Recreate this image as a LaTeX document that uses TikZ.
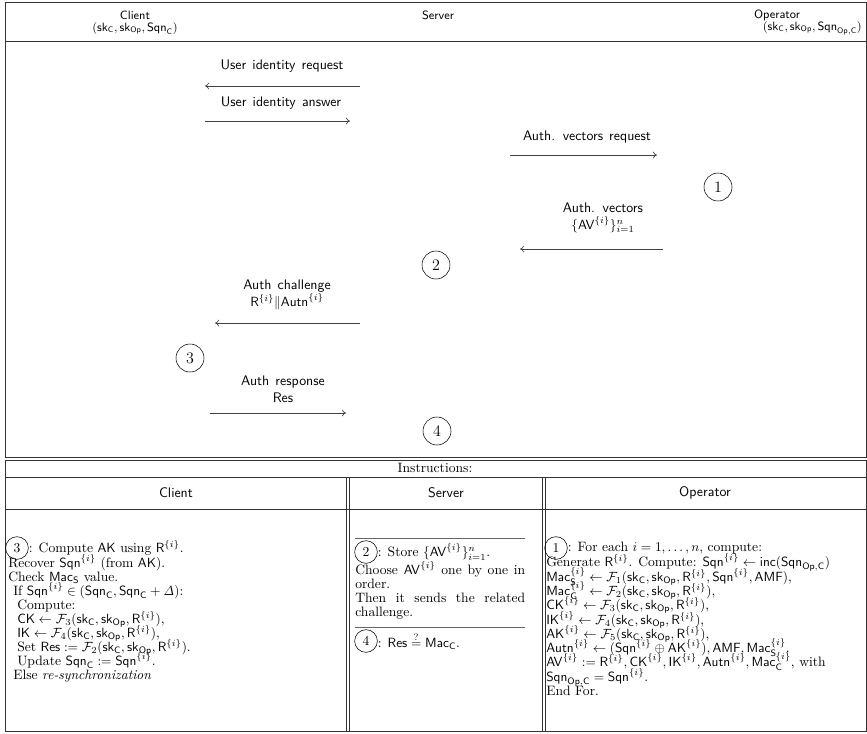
\documentclass[tikz,border=0pt]{standalone}
\usepackage{amsmath,amssymb}
\usetikzlibrary{arrows.meta}
\newcommand{\skx}[1]{\mathsf{sk}_{\mathsf{#1}}}
\newcommand{\Sqnx}{\mathsf{Sqn}}
\newcommand{\ix}{^{\{i\}}}
\newcommand{\Fx}[1]{\mathcal{F}_{#1}}
\newcommand{\Rx}{\mathsf{R}}
\newcommand{\args}{(\skx{C},\skx{Op},\Rx\ix)}
\newcommand{\bodyfont}{\fontsize{10.2}{12}\selectfont}
\tikzset{
  frame/.style={draw=black!80,line width=0.6pt},
  lbl/.style={font=\fontsize{10.4}{12.4}\selectfont\sffamily,align=center,inner sep=0pt,
    execute at begin node={\spaceskip=4.6pt plus 1pt}},
  hdr/.style={font=\sffamily\small,inner sep=0pt},
  msg/.style={draw=black!75,line width=0.5pt,-{To[length=3pt,width=5pt]}},
  cn/.style={draw,circle,minimum size=21,inner sep=0pt,font=\large},
  tcn/.style={draw,circle,minimum size=17,inner sep=0pt,font=\bodyfont},
  ln/.style={anchor=base west,inner sep=0pt,font=\bodyfont},
  rule/.style={draw=black!60,line width=0.4pt}
}
\begin{document}
\begin{tikzpicture}[x=0.75pt,y=-0.75pt]
\useasboundingbox (0,0) rectangle (867,733);
% top box
\draw[frame] (5,2) rectangle (866,457);
\draw[frame] (5,41) -- (866,41);
\node[hdr] (hc) at (135,15) {Client};
\node[hdr] (hct) at (135,28) {$(\skx{C},\skx{Op},\Sqnx_{\mathsf{C}})$};
\node[hdr] (hs) at (438,15) {Server};
\node[hdr] (ho) at (777,15) {Operator};
\node[hdr,anchor=east] (hot) at (862,28) {$(\skx{C},\skx{Op},\Sqnx_{\mathsf{Op,C}})$};
% messages
\node[lbl] (m1) at (282,66) {User identity request};
\coordinate (a1s) at (360,86); \coordinate (a1e) at (205,86);
\draw[msg] (a1s) -- (a1e);
\node[lbl] (m2) at (281,103) {User identity answer};
\coordinate (a2s) at (205,121); \coordinate (a2e) at (350,121);
\draw[msg] (a2s) -- (a2e);
\node[lbl] (m3) at (587,137) {Auth. vectors request};
\coordinate (a3s) at (510,155); \coordinate (a3e) at (657,155);
\draw[msg] (a3s) -- (a3e);
\node[cn] (c1) at (718,187) {1};
\node[lbl] (m4) at (603,218) {Auth. vectors\\$\{\mathsf{AV}\ix\}_{i=1}^{n}$};
\coordinate (a4s) at (663,249); \coordinate (a4e) at (520,249);
\draw[msg] (a4s) -- (a4e);
\node[cn] (c2) at (436,265) {2};
\node[lbl] (m5) at (287,295) {Auth challenge\\$\Rx\ix\|\mathsf{Autn}\ix$};
\coordinate (a5s) at (360,323); \coordinate (a5e) at (215,323);
\draw[msg] (a5s) -- (a5e);
\node[cn] (c3) at (190,358) {3};
\node[lbl] (m6) at (283,389) {Auth response\\Res};
\coordinate (a6s) at (210,413); \coordinate (a6e) at (346,413);
\draw[msg] (a6s) -- (a6e);
\node[cn] (c4) at (437,431) {4};
% instructions table
\draw[frame] (5,460) rectangle (866,731);
\draw[frame] (5,477) -- (866,477);
\draw[frame] (5,509) -- (866,509);
\draw[frame] (346,477) -- (346,731);
\draw[frame] (349,477) -- (349,731);
\draw[frame] (542,477) -- (542,731);
\draw[frame] (545,477) -- (545,731);
\node[inner sep=0pt,font=\bodyfont] (ins) at (435,468) {Instructions:};
\node[lbl] (tc) at (176,493) {Client};
\node[lbl] (ts) at (446,493) {Server};
\node[lbl] (to) at (705,493) {Operator};
% client column
\node[tcn] (k3) at (17,548) {3};
\node[ln,anchor=west] (cl1) at (k3.east) {: Compute $\mathsf{AK}$ using $\Rx\ix$.};
\node[ln] (cl2) at (8,567) {Recover $\Sqnx\ix$ (from $\mathsf{AK}$).};
\node[ln] (cl3) at (8,581) {Check $\mathsf{Mac}_{\mathsf{S}}$ value.};
\node[ln] (cl4) at (13,595) {If $\Sqnx\ix\in(\Sqnx_{\mathsf{C}},\Sqnx_{\mathsf{C}}+\mathit{\Delta})$:};
\node[ln] (cl5) at (17,609) {Compute:};
\node[ln] (cl6) at (17,623) {$\mathsf{CK}\leftarrow\Fx{3}\args$,};
\node[ln] (cl7) at (17,637) {$\mathsf{IK}\leftarrow\Fx{4}\args$,};
\node[ln] (cl8) at (17,651) {Set $\mathsf{Res}:=\Fx{2}\args$.};
\node[ln] (cl9) at (17,665) {Update $\Sqnx_{\mathsf{C}}:=\Sqnx\ix$.};
\node[ln] (cl10) at (13,679) {Else \textit{re-synchronization}};
% server column
\draw[rule] (355,538) -- (525,538);
\node[tcn] (k2) at (366,552) {2};
\node[ln,anchor=west] (sl1) at (k2.east) {: Store $\{\mathsf{AV}\ix\}_{i=1}^{n}$.};
\node[ln] (sl2) at (355,574) {\makebox[170\dimexpr 0.75pt\relax][s]{Choose $\mathsf{AV}\ix$ one by one in}};
\node[ln] (sl3) at (355,588) {order.};
\node[ln] (sl4) at (355,602) {\makebox[170\dimexpr 0.75pt\relax][s]{Then it sends the related}};
\node[ln] (sl5) at (355,616) {challenge.};
\draw[rule] (355,627) -- (525,627);
\node[tcn] (k4) at (366,641) {4};
\node[ln,anchor=west] (sl6) at (k4.east) {: $\mathsf{Res}\overset{?}{=}\mathsf{Mac}_{\mathsf{C}}$.};
% operator column
\node[tcn] (k1) at (556,548) {1};
\node[ln,anchor=west] (ol1) at (k1.east) {: For each $i=1,\ldots,n$, compute:};
\node[ln] (ol2) at (546,566) {Generate $\Rx\ix$. Compute: $\Sqnx\ix\leftarrow\mathsf{inc}(\Sqnx_{\mathsf{Op,C}})$};
\node[ln] (ol3) at (546,581) {$\mathsf{Mac}_{\mathsf{S}}\ix\leftarrow\Fx{1}(\skx{C},\skx{Op},\Rx\ix,\Sqnx\ix,\mathsf{AMF})$,};
\node[ln] (ol4) at (546,595) {$\mathsf{Mac}_{\mathsf{C}}\ix\leftarrow\Fx{2}\args$,};
\node[ln] (ol5) at (546,609) {$\mathsf{CK}\ix\leftarrow\Fx{3}\args$,};
\node[ln] (ol6) at (546,624) {$\mathsf{IK}\ix\leftarrow\Fx{4}\args$,};
\node[ln] (ol7) at (546,638) {$\mathsf{AK}\ix\leftarrow\Fx{5}\args$,};
\node[ln] (ol8) at (546,652) {$\mathsf{Autn}\ix\leftarrow(\Sqnx\ix\oplus\mathsf{AK}\ix),\mathsf{AMF},\mathsf{Mac}_{\mathsf{S}}\ix$.};
\node[ln] (ol9) at (546,666) {$\mathsf{AV}\ix:=\Rx\ix,\mathsf{CK}\ix,\mathsf{IK}\ix,\mathsf{Autn}\ix,\mathsf{Mac}_{\mathsf{C}}\ix$, with};
\node[ln] (ol10) at (546,681) {$\Sqnx_{\mathsf{Op,C}}=\Sqnx\ix$.};
\node[ln] (ol11) at (546,695) {End For.};
\end{tikzpicture}
\end{document}
